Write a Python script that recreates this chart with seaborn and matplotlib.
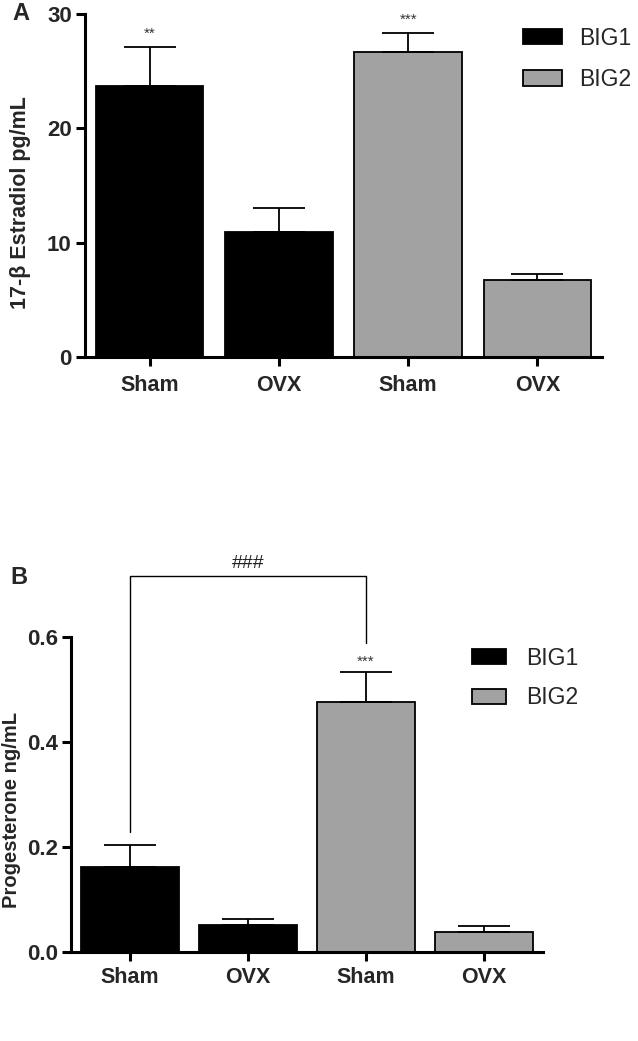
import numpy as np
import pandas as pd
import matplotlib
matplotlib.use("Agg")
import matplotlib.pyplot as plt
import seaborn as sns
from matplotlib.patches import Patch

# ---- data ----
conditions = ["BIG1 Sham", "BIG1 OVX", "BIG2 Sham", "BIG2 OVX"]
tick_labels = ["Sham", "OVX", "Sham", "OVX"]
groups = ["BIG1", "BIG1", "BIG2", "BIG2"]
estradiol_mean = [23.7, 10.9, 26.7, 6.75]
estradiol_sem = [3.4, 2.15, 1.6, 0.55]
estradiol_stars = ["**", "", "***", ""]
progesterone_mean = [0.162, 0.052, 0.477, 0.038]
progesterone_sem = [0.042, 0.011, 0.056, 0.012]
progesterone_stars = ["", "", "***", ""]

sns.set_theme(style="ticks")
plt.rcParams["font.family"] = ["Liberation Sans", "DejaVu Sans"]

palette = {"BIG1": "#000000", "BIG2": "#a2a2a2"}

W, H = 638, 1041
fig = plt.figure(figsize=(W / 100, H / 100), dpi=100)


def px_axes(x0, x1, ytop, ybot):
    return fig.add_axes([x0 / W, 1 - ybot / H, (x1 - x0) / W, (ybot - ytop) / H])


def draw_panel(ax, means, sems, stars, ylim, yticks, yfmt, ylabel, ylabel_size,
               star_pad, label_x, xpad):
    df = pd.DataFrame({"cond": conditions, "value": means, "group": groups})
    sns.barplot(data=df, x="cond", y="value", hue="group", palette=palette,
                dodge=False, width=0.83, edgecolor="black", linewidth=1.3,
                ax=ax, legend=False, errorbar=None)
    ax.errorbar(np.arange(4), means, yerr=[np.zeros(4), sems], fmt="none",
                ecolor="black", elinewidth=1.3, capsize=19, capthick=1.3, zorder=5)
    for i, s in enumerate(stars):
        if s:
            ax.text(i, means[i] + sems[i] + star_pad, s, ha="center", va="bottom",
                    fontsize=11, color="#333333")
    ax.set_xlim(-0.5, 3.5)
    ax.set_ylim(*ylim)
    ax.set_yticks(yticks)
    ax.set_yticklabels([yfmt.format(v) for v in yticks], fontsize=16, fontweight="bold")
    ax.set_xticks(range(4))
    ax.set_xticklabels(tick_labels, fontsize=15.5, fontweight="bold")
    ax.set_xlabel("")
    ax.set_ylabel(ylabel, fontsize=ylabel_size, fontweight="bold")
    ax.yaxis.set_label_coords(label_x, 0.45)
    for side in ["top", "right"]:
        ax.spines[side].set_visible(False)
    for side in ["left", "bottom"]:
        ax.spines[side].set_linewidth(2.2)
        ax.spines[side].set_color("black")
    ax.tick_params(axis="both", width=2.2, length=6.5, color="black", pad=3)
    ax.tick_params(axis="x", pad=xpad)
    ax.set_facecolor("white")
    handles = [Patch(facecolor=palette["BIG1"], edgecolor="black", linewidth=1.3),
               Patch(facecolor=palette["BIG2"], edgecolor="black", linewidth=1.3)]
    return handles


# Panel A
axA = px_axes(85, 602, 14, 357)
hA = draw_panel(axA, estradiol_mean, estradiol_sem, estradiol_stars,
                (0, 30), [0, 10, 20, 30], "{:.0f}", "17-β Estradiol pg/mL", 15.5,
                0.6, -0.105, 6.5)
axA.legend(hA, ["BIG1", "BIG2"], loc="upper left", bbox_to_anchor=(0.83, 0.99),
           frameon=False, fontsize=16.5, handlelength=1.7, handleheight=0.65,
           labelspacing=0.8, handletextpad=0.75, borderaxespad=0)
fig.text(12 / W, 1 - 14 / H, "A", fontsize=17, fontweight="bold", va="center", ha="left")

# Panel B
axB = px_axes(71, 543, 637, 952)
hB = draw_panel(axB, progesterone_mean, progesterone_sem, progesterone_stars,
                (0, 0.6), [0.0, 0.2, 0.4, 0.6], "{:.1f}", "Progesterone ng/mL", 14.5,
                0.006, -0.105, 4)
axB.legend(hB, ["BIG1", "BIG2"], loc="upper left", bbox_to_anchor=(0.83, 0.998),
           frameon=False, fontsize=16.5, handlelength=1.5, handleheight=0.65,
           labelspacing=0.72, handletextpad=0.85, borderaxespad=0)
fig.text(10 / W, 1 - 577 / H, "B", fontsize=17, fontweight="bold", va="center", ha="left")

# significance bracket between BIG1 Sham and BIG2 Sham
bracket_y = 0.717
axB.plot([0, 0, 2, 2], [0.229, bracket_y, bracket_y, 0.588], color="black",
         lw=1.0, clip_on=False)
axB.text(1, bracket_y + 0.006, "###", ha="center", va="bottom", fontsize=14,
         color="#222222", clip_on=False)

fig.savefig("out.png", dpi=100, facecolor="white")
